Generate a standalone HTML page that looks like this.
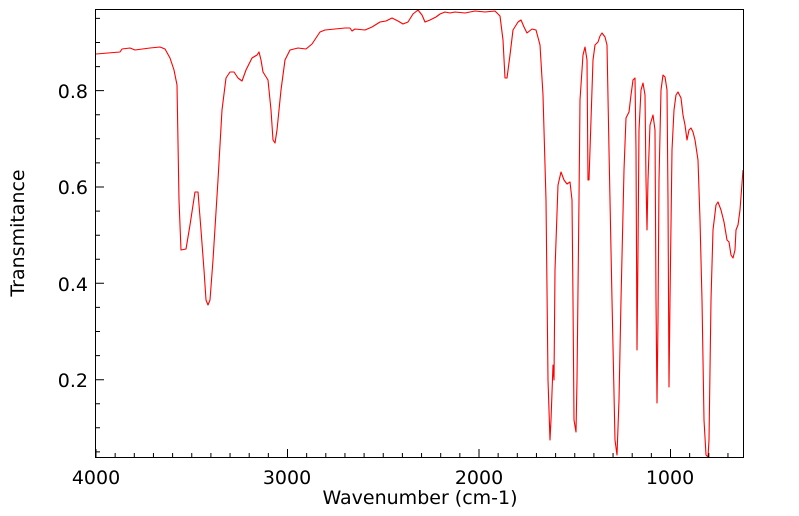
<!DOCTYPE html>
<html><head><meta charset="utf-8"><style>
html,body{margin:0;padding:0;background:#fff;}
svg{display:block;font-family:"DejaVu Sans","Liberation Sans",sans-serif;}
</style></head><body>
<svg width="799" height="516" viewBox="0 0 799 516" xmlns="http://www.w3.org/2000/svg">
<rect width="799" height="516" fill="#fff"/>
<path fill="none" stroke="#ff0000" stroke-width="1.1" stroke-linejoin="round" d="M96,54 L120,52 L122,49 L130,48 L135,50 L150,48 L160,47 L165,49 L170,58 L174,70 L177,85 L179,200 L181,250 L186,249 L190,225 L195,192 L198,192 L201,230 L204,270 L206,300 L208,305 L210,300 L213,260 L218,180 L222,110 L226,78 L230,72 L234,72 L238,78 L242,81 L246,70 L252,58 L257,55 L259,52 L261,60 L263,72 L268,80 L271,110 L273,140 L275,143 L277,130 L281,90 L285,60 L290,50 L298,48 L306,49 L312,44 L320,32 L325,30 L335,29 L345,28 L350,28 L352,31 L355,29 L365,30 L372,27 L380,22 L386,21 L392,18 L398,21 L403,24 L408,22 L413,14 L418,10 L422,15 L425,22 L430,20 L436,17 L440,14 L445,12 L450,13 L455,12 L465,13 L475,11 L485,12 L495,11 L500,16 L503,40 L505,78 L507,78 L510,55 L513,30 L518,22 L521,20 L524,27 L527,33 L532,29 L536,30 L540,45 L543,95 L546,200 L548,380 L550,440 L551,420 L553,365 L554,380 L555,270 L558,185 L561,172 L564,180 L567,184 L570,182 L572,200 L573,300 L574,420 L576,432 L577,380 L579,200 L580,100 L583,55 L585,47 L587,60 L588,180 L589,180 L591,120 L593,60 L595,45 L598,42 L600,36 L602,33 L605,37 L607,45 L609,150 L612,300 L615,440 L617,455 L619,400 L621,300 L624,170 L626,118 L629,112 L631,95 L633,80 L635,78 L636,150 L637,350 L638,250 L639,130 L641,90 L643,83 L645,95 L646,180 L647,230 L648,180 L650,125 L653,115 L655,130 L656,300 L657,403 L658,320 L659,180 L661,90 L663,75 L665,77 L667,90 L668,200 L669,387 L670,300 L672,150 L674,110 L676,95 L678,92 L681,98 L683,115 L685,125 L687,140 L689,130 L691,128 L693,132 L695,140 L698,160 L700,220 L702,300 L704,420 L706,455 L708,457 L709,440 L711,300 L713,230 L716,205 L718,202 L721,210 L724,222 L727,240 L729,242 L731,255 L733,258 L735,250 L736,230 L738,225 L740,210 L743,170"/>
<rect x="95.5" y="9.5" width="648" height="448" fill="none" stroke="#000" stroke-width="1"/>
<g stroke="#000" stroke-width="1">
<path d="M96,457v-8M115.15,457v-4M134.3,457v-4M153.45,457v-4M172.6,457v-4M191.75,457v-4M210.9,457v-4M230.05,457v-4M249.2,457v-4M268.35,457v-4M287.5,457v-8M306.65,457v-4M325.8,457v-4M344.95,457v-4M364.1,457v-4M383.25,457v-4M402.4,457v-4M421.55,457v-4M440.7,457v-4M459.85,457v-4M479,457v-8M498.15,457v-4M517.3,457v-4M536.45,457v-4M555.6,457v-4M574.75,457v-4M593.9,457v-4M613.05,457v-4M632.2,457v-4M651.35,457v-4M670.5,457v-8M689.65,457v-4M708.8,457v-4M727.95,457v-4"/>
<path d="M96,451.9h4M96,427.8h4M96,403.7h4M96,379.7h8M96,355.6h4M96,331.5h4M96,307.4h4M96,283.3h8M96,259.2h4M96,235.2h4M96,211.1h4M96,187h8M96,162.9h4M96,138.8h4M96,114.7h4M96,90.6h8M96,66.6h4M96,42.5h4M96,18.4h4"/>
</g>
<g font-size="19" fill="#000">
<text x="96" y="484" text-anchor="middle">4000</text>
<text x="287" y="484" text-anchor="middle">3000</text>
<text x="479" y="484" text-anchor="middle">2000</text>
<text x="670" y="484" text-anchor="middle">1000</text>
<text x="88" y="98" text-anchor="end">0.8</text>
<text x="88" y="194" text-anchor="end">0.6</text>
<text x="88" y="291" text-anchor="end">0.4</text>
<text x="88" y="387" text-anchor="end">0.2</text>
<text x="420" y="504" text-anchor="middle">Wavenumber (cm-1)</text>
<text transform="translate(24,233) rotate(-90)" text-anchor="middle">Transmitance</text>
</g>
</svg>
</body></html>
